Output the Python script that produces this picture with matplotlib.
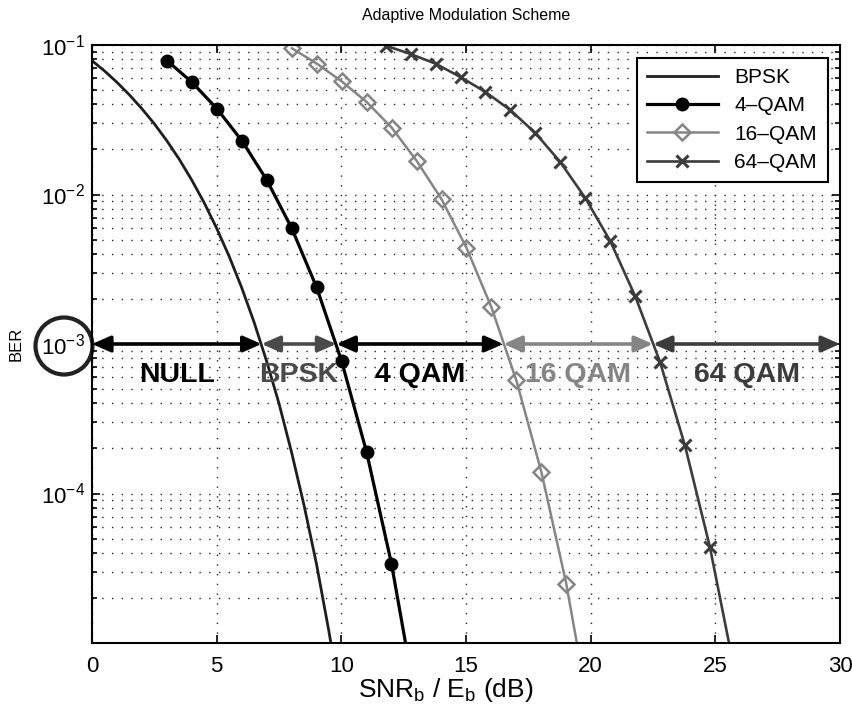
import matplotlib
matplotlib.use('Agg')
import matplotlib.pyplot as plt
from matplotlib.patches import Ellipse
from matplotlib.ticker import FixedLocator, LogLocator, NullFormatter


plt.rcParams['font.family'] = ['Liberation Sans', 'DejaVu Sans']
plt.rcParams['mathtext.fontset'] = 'custom'
plt.rcParams['mathtext.rm'] = 'Liberation Sans'
plt.rcParams['mathtext.it'] = 'Liberation Sans:italic'

# BER curves
bpsk_snr = [0, 0.5, 1, 1.5, 2, 2.5, 3, 3.5, 4, 4.5, 5, 5.5, 6, 6.5, 7, 7.5, 8, 8.5, 9, 9.5, 10]
bpsk_ber = [0.0786, 0.0671, 0.0563, 0.0464, 0.0375, 0.0297, 0.0229, 0.0172, 0.0125, 0.0088,
            0.00595, 0.00386, 0.00239, 0.0014, 7.7e-4, 4.0e-4, 1.9e-4, 8.4e-5, 3.4e-5, 1.2e-5, 3.9e-6]

qam4_snr = [3.01, 4.01, 5.01, 6.01, 7.01, 8.01, 9.01, 10.01, 11.01, 12.01, 13.01]
qam4_ber = [0.0786, 0.0563, 0.0375, 0.0229, 0.0125, 0.00595, 0.00239, 7.7e-4, 1.9e-4, 3.4e-5, 3.9e-6]

qam16_snr = [8.02, 9.02, 10.02, 11.02, 12.02, 13.02, 14.02, 15.02, 16.02, 17.02, 18.02, 19.02, 20.02]
qam16_ber = [0.095, 0.075, 0.057, 0.0415, 0.028, 0.0168, 0.0093, 0.0044, 0.00176, 5.7e-4, 1.4e-4, 2.5e-5, 2.9e-6]

qam64_snr = [11.78, 12.78, 13.78, 14.78, 15.78, 16.78, 17.78, 18.78, 19.78, 20.78, 21.78,
             22.78, 23.78, 24.78, 25.78]
qam64_ber = [0.099, 0.087, 0.075, 0.061, 0.0485, 0.0367, 0.0258, 0.0165, 0.0095, 0.0049, 0.0021,
             7.6e-4, 2.1e-4, 4.4e-5, 6.4e-6]

# switching regions on the 1e-3 target line
target_ber = 1e-3
region_edges = [0, 6.8, 9.8, 16.5, 22.5, 30]
region_names = ['NULL', 'BPSK', '4 QAM', '16 QAM', '64 QAM']
region_colors = ['black', '#4a4a4a', 'black', '#858585', '#3c3c3c']
ber_ticks = [1e-4, 1e-3, 1e-2, 1e-1]

fig = plt.figure(figsize=(8.52, 7.19), dpi=100)
ax = fig.add_axes([92 / 852, 1 - 643 / 719, 748 / 852, 598 / 719])

ax.plot(bpsk_snr, bpsk_ber, color='#1e1e1e', lw=2.0, label='BPSK')
ax.plot(qam4_snr, qam4_ber, color='black', lw=2.3, marker='o', ms=9, mfc='black', label='4\u2013QAM')
ax.plot(qam16_snr, qam16_ber, color='#858585', lw=1.8, marker='D', ms=8, mfc='none', mew=1.8,
        label='16\u2013QAM')
ax.plot(qam64_snr, qam64_ber, color='#3c3c3c', lw=1.9, marker='x', ms=8, mew=2.2, label='64\u2013QAM')

for i, name in enumerate(region_names):
    x0, x1 = region_edges[i], region_edges[i + 1]
    ax.annotate('', xy=(x1, target_ber), xytext=(x0, target_ber),
                arrowprops=dict(arrowstyle='<|-|>,head_length=0.5,head_width=0.22', lw=2.6,
                                color=region_colors[i], mutation_scale=22, shrinkA=0, shrinkB=0))
    ax.text((x0 + x1) / 2, 6.2e-4, name, ha='center', va='center', fontsize=20.5,
            fontweight='bold', color=region_colors[i])

ax.set_yscale('log')
ax.set_xlim(0, 30)
ax.set_ylim(1e-5, 1e-1)
ax.set_xticks([0, 5, 10, 15, 20, 25, 30])
ax.yaxis.set_major_locator(FixedLocator(ber_ticks))
ax.yaxis.set_minor_locator(LogLocator(base=10, subs=range(2, 10), numticks=20))
ax.yaxis.set_minor_formatter(NullFormatter())

ax.tick_params(which='both', direction='in', top=True, right=True, labelsize=16, width=1.2)
ax.tick_params(which='major', length=6)
ax.tick_params(which='minor', length=3.5)
ax.tick_params(axis='x', pad=9)
ax.tick_params(axis='y', pad=5)

ax.grid(True, which='major', linestyle=(0, (1, 6)), color='#222222', lw=1.0)
ax.yaxis.grid(True, which='minor', linestyle=(0, (1, 6)), color='#222222', lw=1.0)
for spine in ax.spines.values():
    spine.set_linewidth(1.5)

ax.set_title('Adaptive Modulation Scheme', fontsize=11.5, pad=18)
ax.set_xlabel(r'SNR$_\mathrm{b}$ / E$_\mathrm{b}$ (dB)', fontsize=19)
ax.xaxis.set_label_coords(0.473, -0.055)
ax.set_ylabel('BER', fontsize=12)
ax.yaxis.set_label_coords(-0.092, 0.5)

leg = ax.legend(loc='upper right', fontsize=15, handlelength=3.4, numpoints=1, fancybox=False,
                framealpha=1, edgecolor='black', borderpad=0.5, labelspacing=0.45,
                borderaxespad=0.6)
leg.get_frame().set_linewidth(1.5)

# circle around the 10^-3 tick label
ax.add_patch(Ellipse(((64 - 92) / 748, (643 - 346) / 598), 57 / 748, 57 / 598, transform=ax.transAxes,
                     fill=False, lw=3, edgecolor='#222222', clip_on=False))

fig.savefig('out.png', dpi=100)
